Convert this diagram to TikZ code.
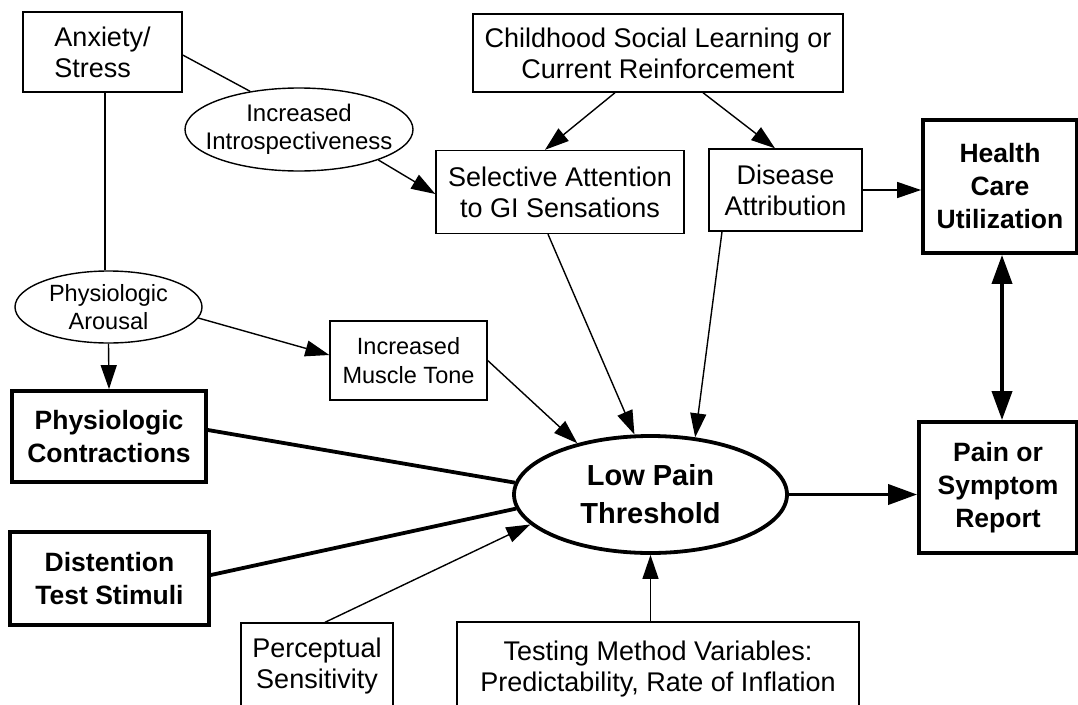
\documentclass[tikz,border=0pt]{standalone}
\usepackage{fontspec}
\setmainfont{Liberation Sans}
\usetikzlibrary{arrows.meta,shapes.geometric}
\begin{document}
\begin{tikzpicture}[x=1pt,y=-1pt,
  box/.style={draw,line width=1.4pt,rectangle,inner sep=0pt,align=center,font=\fontsize{27}{31}\selectfont},
  bbox/.style={draw,line width=3.8pt,rectangle,inner sep=0pt,align=center,font=\fontsize{26.5}{33}\selectfont\bfseries},
  oval/.style={draw,line width=1.4pt,ellipse,inner xsep=-30pt,inner ysep=0pt,align=center,font=\fontsize{23.5}{28}\selectfont},
  boval/.style={draw,line width=3.8pt,ellipse,inner sep=0pt,align=center,font=\fontsize{29}{38}\selectfont\bfseries},
  conn/.style={line width=1.4pt},
  heavy/.style={line width=3.8pt},
  arr/.style={-{Triangle[length=24pt,width=16pt]}},
  barr/.style={-{Triangle[length=29pt,width=20pt]}},
  dbarr/.style={{Triangle[length=29pt,width=20pt]}-{Triangle[length=29pt,width=20pt]}}
]
\useasboundingbox (0,0) rectangle (1078,704);
\clip (0,0) rectangle (1078,704);

% nodes
\node[box,align=left,minimum width=159pt,minimum height=80pt] (anx) at (102.5,52) {Anxiety/\\Stress};
\node[box,minimum width=370pt,minimum height=78pt] (child) at (658,53) {Childhood Social Learning or\\Current Reinforcement};
\node[oval,font=\fontsize{24}{28}\selectfont,minimum width=228pt,minimum height=83pt] (intro) at (299,129.5) {Increased\\Introspectiveness};
\node[box,minimum width=248pt,minimum height=83pt] (sel) at (560,192) {Selective Attention\\to GI Sensations};
\node[box,minimum width=153pt,minimum height=82pt] (dis) at (785.5,190) {Disease\\Attribution};
\node[bbox,minimum width=154pt,minimum height=133pt] (health) at (1000,186.5) {Health\\Care\\Utilization};
\node[oval,inner xsep=0pt,minimum width=187pt,minimum height=72pt] (arousal) at (108.5,307) {Physiologic\\Arousal};
\node[box,font=\fontsize{23.5}{29}\selectfont,minimum width=157pt,minimum height=79pt] (muscle) at (408.5,360.5) {Increased\\Muscle Tone};
\node[bbox,minimum width=194pt,minimum height=91pt] (contr) at (109,436.5) {Physiologic\\Contractions};
\node[boval,minimum width=273pt,minimum height=117pt] (low) at (650.5,494.5) {Low Pain\\Threshold};
\node[bbox,minimum width=158pt,minimum height=131pt] (pain) at (998,487.5) {Pain or\\Symptom\\Report};
\node[bbox,minimum width=199pt,minimum height=93pt] (dist) at (109.5,578.5) {Distention\\Test Stimuli};
\node[box,minimum width=152pt,minimum height=86pt] (perc) at (317,666) {Perceptual\\Sensitivity};
\node[box,minimum width=402pt,minimum height=94pt] (test) at (658,669) {Testing Method Variables:\\Predictability, Rate of Inflation};

% connectors
\draw[conn] ([xshift=2.5pt]anx.south) -- ([xshift=-3.5pt]arousal.north);
\draw[conn] ([yshift=-3pt]anx.east) -- (intro.142.6);
\draw[conn,arr] ([xshift=-43pt]child.south) -- ([xshift=-15pt]sel.north);
\draw[conn,arr] ([xshift=45pt]child.south) -- ([xshift=-10.5pt]dis.north);
\draw[conn,arr] (intro.-21.9) -- ([yshift=-2pt]sel.west);
\draw[conn,arr] (dis.east) -- (dis.east -| health.west);
\draw[conn,arr] (arousal.south) -- (contr.north);
\draw[conn,arr] (arousal.-7.5) -- ([yshift=5.5pt]muscle.west);
\draw[conn,arr] (muscle.east) -- (low.145);
\draw[conn,arr] ([xshift=-12pt]sel.south) -- (low.105);
\draw[conn,arr] ([xshift=-63.5pt]dis.south) -- (low.52.9);
\draw[heavy] ([yshift=6.5pt]contr.east) -- (low.175.1);
\draw[heavy] ([yshift=3.5pt]dist.east) -- (low.-174.7);
\draw[conn,arr] ([xshift=8pt]perc.north) -- (low.-166.1);
\draw[conn,arr] (test.north -| low.south) -- (low.south);
\draw[heavy,barr] (low.east) -- (low.east -| pain.west);
\draw[heavy,dbarr] ([xshift=2pt]health.south) -- ([xshift=4pt]pain.north);
\end{tikzpicture}
\end{document}
